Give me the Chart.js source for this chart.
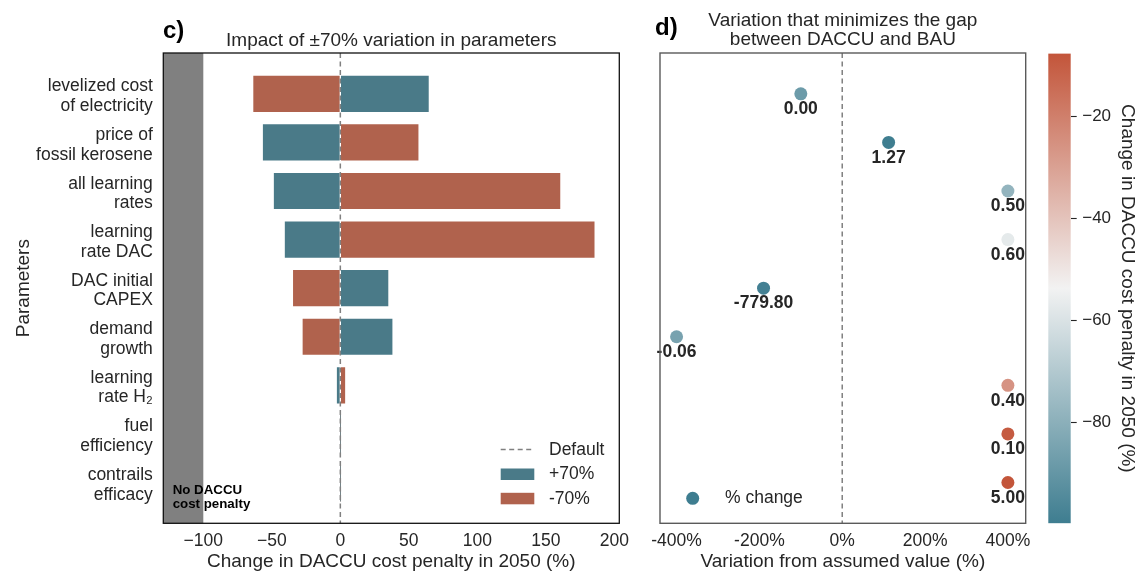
<!DOCTYPE html>
<html><head><meta charset="utf-8">
<script src="https://cdn.jsdelivr.net/npm/chart.js@4.4.1/dist/chart.umd.min.js"></script>
<style>
html,body{margin:0;padding:0;background:#fff;}
#wrap{position:relative;width:1139px;height:573px;overflow:hidden;background:#fff;}
.box{position:absolute;top:0;height:573px;}
canvas{display:block;}
</style></head><body>
<div id="wrap">
 <div class="box" style="left:0;width:640px"><canvas id="c1" width="640" height="573"></canvas></div>
 <div class="box" style="left:640px;width:400px"><canvas id="c2" width="400" height="573"></canvas></div>
 <div class="box" style="left:1040px;width:99px"><canvas id="c3" width="99" height="573"></canvas></div>
</div>
<script>
// ---------- data ----------
const parameters = [["levelized cost","of electricity"],["price of","fossil kerosene"],["all learning","rates"],["learning","rate DAC"],["DAC initial","CAPEX"],["demand","growth"],["learning","rate H\u2082"],["fuel","efficiency"],["contrails","efficacy"]];
const plus70 = [65, -57, -49, -41, 35.5, 38.5, -3, 0, 0];
const minus70 = [-64, 57.5, 161, 186, -35, -28, 4, 0, 0];
const defaultValue = 0;
const noPenaltyLimit = -100;
const leftTicks = [-100, -50, 0, 50, 100, 150, 200];
const variation = [-100, 112, 400, 400, -190, -400, 400, 400, 400];
const penaltyChange = [-88, -99.5, -78, -57, -98.5, -85, -26, -9.5, -7.7];
const optimalValues = ["0.00","1.27","0.50","0.60","-779.80","-0.06","0.40","0.10","5.00"];
const rightTicks = [-400, -200, 0, 200, 400];
const colorbarTicks = [-80, -60, -40, -20];
const colorbarRange = [-99.7, -7.7];
const cmapStops = ['#3e7d90', '#f2f2f2', '#c3553a'];

// ---------- helpers ----------
const TEXT = '#262626';
const TEAL = '#4a7a88';
const RED = '#b0624d';
Chart.defaults.font.family = "'Liberation Sans', Arial, sans-serif";
Chart.defaults.color = TEXT;
const fmtMinus = v => v < 0 ? '\u2212' + Math.abs(v) : String(v);
function hex2rgb(h){return [1,3,5].map(i=>parseInt(h.substr(i,2),16));}
function cmap(v){
  let t = (v - colorbarRange[0]) / (colorbarRange[1] - colorbarRange[0]);
  t = Math.max(0, Math.min(1, t));
  const seg = t < 0.5 ? 0 : 1;
  const s = t < 0.5 ? t*2 : (t-0.5)*2;
  const a = hex2rgb(cmapStops[seg]), b = hex2rgb(cmapStops[seg+1]);
  const c = a.map((x,i)=>Math.round(x + (b[i]-x)*s));
  return 'rgb(' + c.join(',') + ')';
}
const yMin = -0.84, yMax = 8.84;

// ---------- left panel ----------
const leftDecor = {
  id: 'leftDecor',
  beforeDatasetsDraw(chart){
    const {ctx, chartArea:a, scales:{x}} = chart;
    ctx.save();
    ctx.fillStyle = '#808080';
    const xr = x.getPixelForValue(noPenaltyLimit);
    ctx.fillRect(a.left, a.top, xr - a.left, a.bottom - a.top);
    ctx.restore();
  },
  afterDatasetsDraw(chart){
    const {ctx, chartArea:a, scales:{x}} = chart;
    ctx.save();
    // default line
    const x0 = x.getPixelForValue(defaultValue);
    ctx.strokeStyle = '#808080'; ctx.lineWidth = 1.5; ctx.setLineDash([5,3.5]);
    ctx.beginPath(); ctx.moveTo(x0, a.top); ctx.lineTo(x0, a.bottom); ctx.stroke();
    ctx.setLineDash([]);
    // annotation
    ctx.fillStyle = '#000';
    ctx.font = "bold 13.3px 'Liberation Sans', Arial, sans-serif";
    ctx.textAlign = 'left'; ctx.textBaseline = 'alphabetic';
    ctx.fillText('No DACCU', a.left + 9.4, 493.5);
    ctx.fillText('cost penalty', a.left + 9.4, 507.5);
    // frame
    ctx.strokeStyle = '#111'; ctx.lineWidth = 1.3;
    ctx.strokeRect(a.left, a.top, a.right - a.left, a.bottom - a.top);
    // legend
    const lx0 = 500.7, lx1 = 534.3;
    ctx.strokeStyle = '#808080'; ctx.lineWidth = 1.5; ctx.setLineDash([5,3.5]);
    ctx.beginPath(); ctx.moveTo(lx0, 449.5); ctx.lineTo(lx1, 449.5); ctx.stroke();
    ctx.setLineDash([]);
    const ds = chart.data.datasets;
    ctx.fillStyle = ds[0].backgroundColor; ctx.fillRect(lx0, 468.5, lx1 - lx0, 11.5);
    ctx.fillStyle = ds[1].backgroundColor; ctx.fillRect(lx0, 492.8, lx1 - lx0, 11.5);
    ctx.fillStyle = TEXT;
    ctx.font = "17.5px 'Liberation Sans', Arial, sans-serif";
    ctx.textBaseline = 'middle';
    ctx.fillText('Default', 549, 450);
    ctx.fillText(ds[0].label, 549, 474.5);
    ctx.fillText(ds[1].label, 549, 498.8);
    // panel letter
    ctx.fillStyle = '#000';
    ctx.font = "bold 24px 'Liberation Sans', Arial, sans-serif";
    ctx.textBaseline = 'alphabetic';
    ctx.fillText('c)', 163, 37.5);
    ctx.restore();
  }
};

const barBorder = ctx => (ctx.raw && ctx.raw.x !== 0) ? 1 : 0;
new Chart(document.getElementById('c1'), {
  type: 'bar',
  data: { datasets: [
    {label:'+70%', data: plus70.map((v,i)=>({x:v, y:i})), backgroundColor: TEAL, borderColor:'rgba(255,255,255,0.5)', borderWidth: barBorder, borderSkipped:false},
    {label:'-70%', data: minus70.map((v,i)=>({x:v, y:i})), backgroundColor: RED, borderColor:'rgba(255,255,255,0.5)', borderWidth: barBorder, borderSkipped:false}
  ]},
  options: {
    indexAxis: 'y', responsive: false, animation: false,
    layout: {padding: {left:0, right:20.7, top:0, bottom:0}},
    datasets: {bar: {barThickness: 37.5, grouped: false}},
    plugins: {
      legend: {display:false}, tooltip: {enabled:false},
      title: {display:true, text:'Impact of \u00b170% variation in parameters', fullSize:false, color:TEXT,
              font:{size:19, weight:'normal', lineHeight:1.0}, padding:{top:31.2, bottom:2.8}}
    },
    scales: {
      x: {type:'linear', min:-129.2, max:203.6, grid:{display:false, drawTicks:false}, border:{display:false},
          afterBuildTicks: s => { s.ticks = leftTicks.map(v=>({value:v})); },
          ticks: {font:{size:17.5}, color:TEXT, padding:7.3, maxRotation:0, autoSkip:false, callback: v => fmtMinus(v)},
          title: {display:true, text:'Change in DACCU cost penalty in 2050 (%)', font:{size:19}, color:TEXT, padding:{top:0, bottom:0}},
          afterFit: s => { s.height = 49.7; }},
      y: {type:'linear', reverse:true, min:yMin, max:yMax, offset:false, grid:{display:false, drawTicks:false}, border:{display:false},
          afterBuildTicks: s => { s.ticks = parameters.map((_,i)=>({value:i})); },
          ticks: {font:{size:17.5, lineHeight:1.12}, color:TEXT, padding:10.5, labelOffset:2.5, autoSkip:false, callback: v => parameters[v]},
          title: {display:true, text:'Parameters', font:{size:19}, color:TEXT, padding:{top:12, bottom:0}},
          afterFit: s => { s.width = 163.3; }}
    }
  },
  plugins: [leftDecor]
});

// ---------- right panel ----------
const rightDecor = {
  id: 'rightDecor',
  beforeDatasetsDraw(chart){
    const {ctx, chartArea:a, scales:{x}} = chart;
    ctx.save();
    const x0 = x.getPixelForValue(0);
    ctx.strokeStyle = '#808080'; ctx.lineWidth = 1.5; ctx.setLineDash([5,3.5]);
    ctx.beginPath(); ctx.moveTo(x0, a.top); ctx.lineTo(x0, a.bottom); ctx.stroke();
    ctx.restore();
  },
  afterDatasetsDraw(chart){
    const {ctx, chartArea:a} = chart;
    ctx.save();
    const meta = chart.getDatasetMeta(0);
    ctx.fillStyle = TEXT;
    ctx.font = "bold 17.5px 'Liberation Sans', Arial, sans-serif";
    ctx.textAlign = 'center'; ctx.textBaseline = 'alphabetic';
    meta.data.forEach((el, i) => { ctx.fillText(optimalValues[i], el.x, el.y + 20.3); });
    // frame
    ctx.strokeStyle = '#5a5a5a'; ctx.lineWidth = 1.4;
    ctx.strokeRect(a.left, a.top, a.right - a.left, a.bottom - a.top);
    // legend
    ctx.fillStyle = cmap(colorbarRange[0]);
    ctx.beginPath(); ctx.arc(52.7, 498.3, 6.5, 0, Math.PI*2); ctx.fill();
    ctx.fillStyle = TEXT;
    ctx.font = "17.5px 'Liberation Sans', Arial, sans-serif";
    ctx.textAlign = 'left'; ctx.textBaseline = 'middle';
    ctx.fillText(chart.data.datasets[0].label, 85, 498.3);
    // panel letter
    ctx.fillStyle = '#000';
    ctx.font = "bold 24px 'Liberation Sans', Arial, sans-serif";
    ctx.textBaseline = 'alphabetic';
    ctx.fillText('d)', 15, 35);
    ctx.restore();
  }
};

new Chart(document.getElementById('c2'), {
  type: 'scatter',
  data: { datasets: [{
    label: '% change',
    data: variation.map((v,i)=>({x:v, y:i})),
    pointBackgroundColor: penaltyChange.map(cmap),
    pointBorderWidth: 0, pointRadius: 6.5, pointHoverRadius: 6.5
  }]},
  options: {
    responsive:false, animation:false,
    layout: {padding: {left:20, right:14.3, top:0, bottom:0}},
    plugins: {
      legend:{display:false}, tooltip:{enabled:false},
      title: {display:true, text:['Variation that minimizes the gap','between DACCU and BAU'], fullSize:false, color:TEXT,
              font:{size:19, weight:'normal', lineHeight:1.0}, padding:{top:11.5, bottom:3.5}}
    },
    scales: {
      x: {type:'linear', min:-440, max:443, grid:{display:false, drawTicks:false}, border:{display:false},
          afterBuildTicks: s => { s.ticks = rightTicks.map(v=>({value:v})); },
          ticks: {font:{size:17.5}, color:TEXT, padding:7.3, maxRotation:0, autoSkip:false, callback: v => v + '%'},
          title: {display:true, text:'Variation from assumed value (%)', font:{size:19}, color:TEXT, padding:{top:0, bottom:0}},
          afterFit: s => { s.height = 49.7; }},
      y: {type:'linear', reverse:true, min:yMin, max:yMax, display:false}
    }
  },
  plugins: [rightDecor]
});

// ---------- colorbar ----------
function cbGradient(ctx){
  const chart = ctx.chart; const a = chart.chartArea;
  if (!a) return cmapStops[1];
  const g = chart.ctx.createLinearGradient(0, a.bottom, 0, a.top);
  cmapStops.forEach((c, i) => g.addColorStop(i / (cmapStops.length - 1), c));
  return g;
}
new Chart(document.getElementById('c3'), {
  type: 'bar',
  data: { labels: [''], datasets: [{ data: [colorbarRange], backgroundColor: cbGradient, borderWidth: 0, categoryPercentage: 1, barPercentage: 1 }]},
  options: {
    responsive:false, animation:false,
    layout: {padding: {left:8.3, right:0, top:53.5, bottom:49.7}},
    plugins: {legend:{display:false}, tooltip:{enabled:false}},
    scales: {
      x: {display:false},
      y: {position:'right', min:colorbarRange[0], max:colorbarRange[1], border:{display:false},
          grid:{display:true, drawOnChartArea:false, drawTicks:true, tickLength:6, color:TEXT, tickWidth:1.1},
          afterBuildTicks: s => { s.ticks = colorbarTicks.map(v=>({value:v})); },
          ticks: {font:{size:17}, color:TEXT, padding:5.5, callback: v => fmtMinus(v)},
          title: {display:true, text:'Change in DACCU cost penalty in 2050 (%)', font:{size:19}, color:TEXT, padding:{top:0, bottom:0}},
          afterFit: s => { s.width = 68.3; }}
    }
  }
});
</script>
</body></html>
